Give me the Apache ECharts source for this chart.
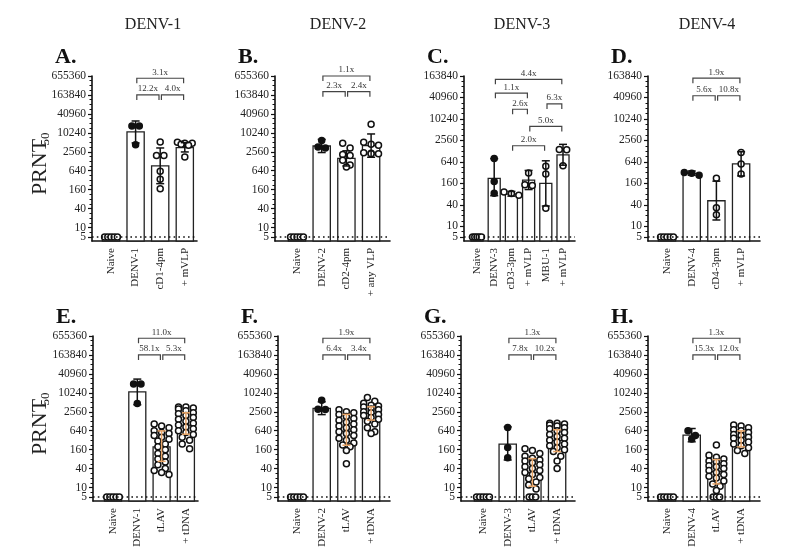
<!DOCTYPE html>
<html><head><meta charset="utf-8">
<script src="https://cdn.jsdelivr.net/npm/echarts@6/dist/echarts.min.js"></script>
<style>html,body{margin:0;padding:0;background:#fff}#c{width:789px;height:551px}</style>
</head><body><div id="c"></div>
<script>
// ---------------- DATA (PRNT50 values) ----------------
const LOD = 5;

const A_groups = ['Naive','DENV-1','cD1-4pm','+ mVLP'];
const A_means = [5, 10900, 905, 3470];
const A_errLow = [5, 4880, 248, 2525];
const A_errHigh = [5, 24350, 3380, 4980];
const A_points = [[5,5,5,5,5],[17000,17000,4300],[5265,1940,1940,614,340,172],[5120,4777,4457,4777,4159,1748]];
const A_folds = ['3.1x','12.2x','4.0x'];

const B_groups = ['Naive','DENV-2','cD2-4pm','+ any VLP'];
const B_means = [5, 3900, 1576, 4017];
const B_errLow = [5, 2420, 905, 1712];
const B_errHigh = [5, 6300, 2744, 9420];
const B_points = [[5,5,5,5,5],[5800,3600,3400],[4777,3378,2079,1940,1372,970,844],[19110,5120,4457,4159,2389,2307,2229,2229]];
const B_folds = ['1.1x','2.3x','2.4x'];

const C_groups = ['Naive','DENV-3','cD3-3pm','+ mVLP','MBU-1','+ mVLP'];
const C_means = [5, 221, 80, 198, 160, 1010];
const C_errLow = [5, 72, 70, 107, 37, 516];
const C_errHigh = [5, 790, 95, 368, 686, 1981];
const C_points = [[5,5,5,5,5],[790,179,85],[74,83,91],[310,145,140],[480,294,32],[1430,1400,495]];
const C_folds = ['4.4x','1.1x','2.6x','6.3x','5.0x','2.0x'];

const D_groups = ['Naive','DENV-4','cD4-3pm','+ mVLP'];
const D_means = [5, 306, 52, 561];
const D_errLow = [5, 269, 15, 258];
const D_errHigh = [5, 355, 184, 1228];
const D_points = [[5,5,5,5,5],[270,320,307],[221,33,21],[1180,560,294]];
const D_folds = ['1.9x','5.6x','10.8x'];

const E_groups = ['Naive','DENV-1','tLAV','+ tDNA'];
const E_means = [5, 10975, 196, 960];
const E_errLow = [5, 4300, 68, 495];
const E_errHigh = [5, 27970, 631, 2372];
const E_points = [[5,5,5,5,5],[19400,19400,4700],
  [1040,905,788,640,557,520,453,394,343,299,243,197,160,121,98,80,65,53,40,35,30,26],
  [3620,3620,3378,3152,2744,2389,2229,1940,1689,1470,1280,1114,970,844,735,640,557,485,394,320,243,171]];
const E_folds = ['11.0x','58.1x','5.3x'];

const F_groups = ['Naive','DENV-2','tLAV','+ tDNA'];
const F_means = [5, 3300, 620, 2260];
const F_errLow = [5, 2080, 221, 1391];
const F_errHigh = [5, 5300, 2108, 3670];
const F_points = [[5,5,5,5,5],[6000,3000,3100],
  [2940,2560,2389,2079,1810,1576,1372,1194,1040,905,788,686,597,520,453,368,320,260,226,197,149,57],
  [7240,5487,4777,4159,3880,3620,3152,2940,2560,2389,2079,1940,1689,1470,1280,1040,788,597,520]];
const F_folds = ['1.9x','6.4x','3.4x'];

const G_groups = ['Naive','DENV-3','tLAV','+ tDNA'];
const G_means = [5, 238, 30, 314];
const G_errLow = [5, 75, 11, 139];
const G_errHigh = [5, 845, 83, 686];
const G_points = [[5,5,5,5,5],[810,187,89],
  [171,149,121,98,86,75,70,61,53,46,40,35,30,26,21,19,15,12,9,5,5,5],
  [1114,1114,1040,970,905,788,735,640,557,485,422,368,320,279,243,211,184,160,139,98,70,40]];
const G_folds = ['1.3x','7.8x','10.2x'];

const H_groups = ['Naive','DENV-4','tLAV','+ tDNA'];
const H_means = [5, 462, 32, 400];
const H_errLow = [5, 284, 13, 196];
const H_errHigh = [5, 751, 77, 631];
const H_points = [[5,5,5,5,5],[640,350,450],
  [226,106,92,80,70,65,57,49,46,40,35,30,26,23,20,16,13,11,8,5,5,5],
  [970,905,788,686,640,557,485,453,394,368,320,279,243,211,184,149,121]];
const H_folds = ['1.3x','15.3x','12.0x'];

const SEROTYPES = ['DENV-1','DENV-2','DENV-3','DENV-4'];

// ---------------- LAYOUT (pixels / annotation placement) ----------------
const FONT = '"Liberation Serif", "Times New Roman", serif';
const TOP_BR = [[1,3,16.76],[1,2,15.0],[2,3,15.0]];
const LAYOUT = {
  A:{ax:92,  c0:111, step:24.6, end:197, top:76,  bottom:241, uMax:17, br:TOP_BR},
  B:{ax:275, c0:297, step:24.7, end:390, top:76,  bottom:241, uMax:17, br:[[1,3,17.0],[1,2,15.35],[2,3,15.35]]},
  C:{ax:464, c0:477, step:17.2, end:575, top:76,  bottom:241, uMax:15, br:[[1,5,14.69],[1,3,13.4],[2,3,11.9],[4,5,12.4],[3,5,10.3],[2,4,8.5]]},
  D:{ax:648, c0:667, step:24.7, end:760, top:76,  bottom:241, uMax:15, br:[[1,3,14.8],[1,2,13.16],[2,3,13.16]]},
  E:{ax:93,  c0:113, step:24.3, end:198, top:336, bottom:501, uMax:17, br:TOP_BR},
  F:{ax:278, c0:297, step:24.7, end:390, top:336, bottom:501, uMax:17, br:TOP_BR},
  G:{ax:461, c0:483, step:24.7, end:575, top:336, bottom:501, uMax:17, br:TOP_BR},
  H:{ax:648, c0:667, step:24.7, end:760, top:336, bottom:501, uMax:17, br:TOP_BR}
};
const PANELS = [
  {key:'A', groups:A_groups, means:A_means, lo:A_errLow, hi:A_errHigh, pts:A_points, folds:A_folds},
  {key:'B', groups:B_groups, means:B_means, lo:B_errLow, hi:B_errHigh, pts:B_points, folds:B_folds},
  {key:'C', groups:C_groups, means:C_means, lo:C_errLow, hi:C_errHigh, pts:C_points, folds:C_folds},
  {key:'D', groups:D_groups, means:D_means, lo:D_errLow, hi:D_errHigh, pts:D_points, folds:D_folds},
  {key:'E', groups:E_groups, means:E_means, lo:E_errLow, hi:E_errHigh, pts:E_points, folds:E_folds},
  {key:'F', groups:F_groups, means:F_means, lo:F_errLow, hi:F_errHigh, pts:F_points, folds:F_folds},
  {key:'G', groups:G_groups, means:G_means, lo:G_errLow, hi:G_errHigh, pts:G_points, folds:G_folds},
  {key:'H', groups:H_groups, means:H_means, lo:H_errLow, hi:H_errHigh, pts:H_points, folds:H_folds}
];

const toU = v => Math.log2(v / LOD);   // log2 fold over the detection limit
const ORANGE = '#E9A567';

// bee-swarm style layout: rows of nearby points, centred on the category
function swarm(vals, ppu, step) {
  const items = vals.map(v => ({v, u: toU(v)})).sort((a, b) => b.u - a.u);
  const rows = [];
  items.forEach(it => {
    const r = rows[rows.length - 1];
    const lod = it.v <= LOD;
    if (r && r.lod === lod && (lod || ((r.items[0].u - it.u) * ppu < 5.5 && r.items.length < 3))) r.items.push(it);
    else rows.push({lod, items: [it]});
  });
  const out = [];
  rows.forEach(r => {
    const n = r.items.length;
    const sp = r.lod ? 0.13 : 7.4 / step;
    r.items.forEach((it, k) => out.push([(k - (n - 1) / 2) * sp, it.u]));
  });
  return out;
}

const option = {animation:false, backgroundColor:'#fff', textStyle:{fontFamily:FONT},
  grid:[], xAxis:[], yAxis:[], series:[], graphic:[]};

const labelStyle = {margin:6, fontSize:11.5, fontFamily:FONT, color:'#222', hideOverlap:false,
  formatter:v => String(Math.round(LOD * Math.pow(2, v)))};

PANELS.forEach((p, gi) => {
  const L = LAYOUT[p.key];
  const h = L.bottom - L.top;
  const uMin = -4 * L.uMax / (h - 4);
  const ppu = h / (L.uMax - uMin);
  const xMin = -(L.c0 - L.ax) / L.step, xMax = (L.end - L.c0) / L.step;
  option.grid.push({left:L.ax, top:L.top, width:L.end - L.ax, height:h});
  option.xAxis.push({type:'value', gridIndex:gi, min:xMin, max:xMax,
    axisLine:{show:true, onZero:false, lineStyle:{color:'#111', width:1.6}},
    axisTick:{show:false}, splitLine:{show:false},
    axisLabel:{customValues:p.groups.map((g, i) => i), formatter:v => p.groups[Math.round(v)] || '',
      rotate:90, margin:7, fontSize:11, fontFamily:FONT, color:'#222', hideOverlap:false}});
  const majors = [0]; for (let u = 1; u <= L.uMax; u += 2) majors.push(u);
  const minors = []; for (let u = 0.5; u < L.uMax; u += 0.5) if (!majors.includes(u)) minors.push(u);
  const yMain = option.yAxis.length;
  // main axis: line, major ticks, labels from 10 upward
  option.yAxis.push({type:'value', gridIndex:gi, min:uMin, max:L.uMax, position:'left',
    axisLine:{show:true, onZero:false, lineStyle:{color:'#111', width:1.6}},
    axisTick:{show:true, customValues:majors, length:4, lineStyle:{color:'#111', width:1.2}},
    splitLine:{show:false},
    axisLabel:Object.assign({customValues:majors.slice(1)}, labelStyle)});
  // companion axis: minor ticks + the detection-limit label "5"
  option.yAxis.push({type:'value', gridIndex:gi, min:uMin, max:L.uMax, position:'left', offset:0,
    axisLine:{show:false, onZero:false},
    axisTick:{show:true, customValues:minors, length:2.5, lineStyle:{color:'#111', width:1}},
    axisLabel:Object.assign({customValues:[0], showMinLabel:true}, labelStyle), splitLine:{show:false}});

  // bars (geometric means)
  option.series.push({type:'custom', xAxisIndex:gi, yAxisIndex:yMain, z:2,
    data:p.means.map((m, i) => [i, toU(m)]),
    renderItem:(params, api) => {
      const top = api.coord([api.value(0), api.value(1)]);
      const bot = api.coord([api.value(0), uMin]);
      const w = api.size([0.7, 0])[0];
      return {type:'rect', shape:{x:top[0] - w / 2, y:top[1], width:w, height:bot[1] - top[1]},
        style:{fill:'#fff', stroke:'#222', lineWidth:1.3}};
    }});

  // points
  const pdata = [];
  p.pts.forEach((vals, i) => {
    const fill = p.groups[i].indexOf('DENV') === 0 ? '#111' : '#fff';
    swarm(vals, ppu, L.step).forEach(([off, u]) => pdata.push({value:[i + off, u], itemStyle:{color:fill}}));
  });
  option.series.push({type:'scatter', xAxisIndex:gi, yAxisIndex:yMain, z:3, symbol:'circle', symbolSize:6,
    itemStyle:{borderColor:'#111', borderWidth:1.5, opacity:1}, data:pdata});

  // error bars (geometric SD) + dotted detection-limit line
  option.series.push({type:'custom', xAxisIndex:gi, yAxisIndex:yMain, z:4,
    data:p.means.map((m, i) => [i, toU(p.lo[i]), toU(p.hi[i])]),
    renderItem:(params, api) => {
      const i = params.dataIndex;
      if (p.hi[i] <= p.lo[i]) return null;
      const g = p.groups[i];
      const col = (g === 'tLAV' || g === '+ tDNA') ? ORANGE : '#111';
      const a = api.coord([api.value(0), api.value(1)]);
      const b = api.coord([api.value(0), api.value(2)]);
      const c = 4;
      const st = {stroke:col, lineWidth:1.5};
      return {type:'group', children:[
        {type:'line', shape:{x1:a[0], y1:a[1], x2:b[0], y2:b[1]}, style:st},
        {type:'line', shape:{x1:a[0] - c, y1:a[1], x2:a[0] + c, y2:a[1]}, style:st},
        {type:'line', shape:{x1:b[0] - c, y1:b[1], x2:b[0] + c, y2:b[1]}, style:st}]};
    },
    markLine:{silent:true, symbol:'none', animation:false, label:{show:false},
      lineStyle:{type:[1.6, 3.2], color:'#111', width:1.6}, data:[{yAxis:0}]}});

  // comparison brackets with fold-change labels
  option.series.push({type:'custom', xAxisIndex:gi, yAxisIndex:yMain, z:4,
    encode:{x:[0, 2], y:1},
    data:L.br.map(b => [b[0], b[2], b[1]]),
    renderItem:(params, api) => {
      const s = api.coord([api.value(0), api.value(1)]);
      const e = api.coord([api.value(2), api.value(1)]);
      const a = s[0] + 1.2, b = e[0] - 1.2, y = s[1], leg = 5;
      return {type:'group', children:[
        {type:'polyline', shape:{points:[[a, y + leg], [a, y], [b, y], [b, y + leg]]},
          style:{stroke:'#444', lineWidth:1.2, fill:'none'}},
        {type:'text', style:{text:p.folds[params.dataIndex], x:(a + b) / 2, y:y - 1.5,
          align:'center', verticalAlign:'bottom', textAlign:'center', textVerticalAlign:'bottom',
          fontSize:9, fontFamily:FONT, fill:'#333'}}]};
    }});

  // panel letter
  option.graphic.push({type:'text', x:L.ax - 37, y:L.top - 19,
    style:{text:p.key + '.', font:'bold 22px ' + FONT, fill:'#111', verticalAlign:'middle', textVerticalAlign:'middle'}});
});

// serotype column titles
const titleX = [153, 338, 522, 707];
SEROTYPES.forEach((t, i) => option.graphic.push({type:'text', x:titleX[i], y:25,
  style:{text:t, font:'16px ' + FONT, fill:'#222', align:'center', verticalAlign:'middle',
    textAlign:'center', textVerticalAlign:'middle'}}));

// y-axis titles (PRNT50) for both rows
[0, 260].forEach(dy => {
  option.graphic.push({type:'text', x:40, y:167 + dy, rotation:Math.PI / 2,
    style:{text:'PRNT', font:'22px ' + FONT, fill:'#222', align:'center', verticalAlign:'middle',
      textAlign:'center', textVerticalAlign:'middle'}});
  option.graphic.push({type:'text', x:46, y:139 + dy, rotation:Math.PI / 2,
    style:{text:'50', font:'13px ' + FONT, fill:'#222', align:'center', verticalAlign:'middle',
      textAlign:'center', textVerticalAlign:'middle'}});
});

const chart = echarts.init(document.getElementById('c'), null, {renderer:'canvas'});
chart.setOption(option);
</script></body></html>
